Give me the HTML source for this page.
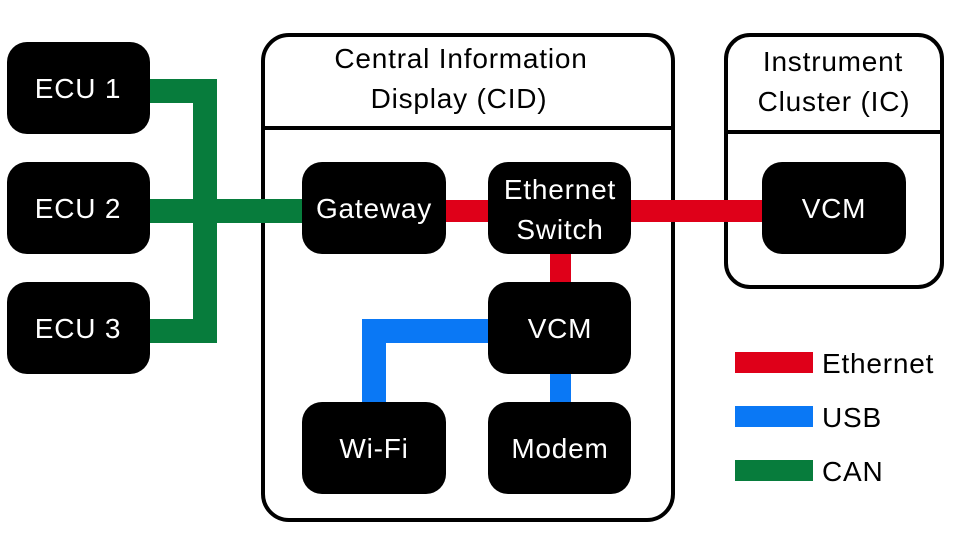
<!DOCTYPE html>
<html><head><meta charset="utf-8"><style>html,body{margin:0;padding:0;background:#fff}svg{display:block}text{font-family:"Liberation Sans","DejaVu Sans",sans-serif}</style></head><body>
<svg width="965" height="537" viewBox="0 0 965 537" xmlns="http://www.w3.org/2000/svg">
<rect x="0" y="0" width="965" height="537" fill="#fff"/>
<rect x="263" y="35" width="410" height="485" rx="26" fill="none" stroke="#000" stroke-width="4"/>
<line x1="263" y1="128" x2="673" y2="128" stroke="#000" stroke-width="4"/>
<rect x="726" y="35" width="216" height="252" rx="24" fill="none" stroke="#000" stroke-width="4"/>
<line x1="726" y1="132" x2="942" y2="132" stroke="#000" stroke-width="4"/>
<g fill="#077c3c">
<rect x="148" y="79" width="69" height="24"/>
<rect x="193" y="79" width="24" height="264"/>
<rect x="148" y="319" width="69" height="24"/>
<rect x="148" y="199" width="156" height="24"/>
</g>
<g fill="#df0019">
<rect x="444" y="200" width="46" height="22"/>
<rect x="629" y="200" width="135" height="22"/>
<rect x="550" y="252" width="21" height="32"/>
</g>
<g fill="#0a78f5">
<rect x="362" y="319" width="128" height="24"/>
<rect x="362" y="319" width="24" height="86"/>
<rect x="550" y="372" width="21" height="33"/>
</g>
<g fill="#000">
<rect x="7" y="42" width="143" height="92" rx="20"/>
<rect x="7" y="162" width="143" height="92" rx="20"/>
<rect x="7" y="282" width="143" height="92" rx="20"/>
<rect x="302" y="162" width="144" height="92" rx="20"/>
<rect x="488" y="162" width="143" height="92" rx="20"/>
<rect x="488" y="282" width="143" height="92" rx="20"/>
<rect x="302" y="402" width="144" height="92" rx="20"/>
<rect x="488" y="402" width="143" height="92" rx="20"/>
<rect x="762" y="162" width="144" height="92" rx="20"/>
</g>
<g fill="#fff" font-size="28" text-anchor="middle" letter-spacing="0.8">
<text x="78" y="98">ECU 1</text>
<text x="78" y="218">ECU 2</text>
<text x="78" y="338">ECU 3</text>
<text x="374" y="218">Gateway</text>
<text x="560" y="199">Ethernet</text>
<text x="560" y="239">Switch</text>
<text x="560" y="338">VCM</text>
<text x="374" y="458">Wi-Fi</text>
<text x="560" y="458">Modem</text>
<text x="834" y="218">VCM</text>
</g>
<g fill="#000" font-size="28" text-anchor="middle" letter-spacing="0.8">
<text x="461" y="68">Central Information</text>
<text x="459" y="108">Display (CID)</text>
<text x="833" y="71">Instrument</text>
<text x="834" y="111">Cluster (IC)</text>
</g>
<rect x="735" y="352" width="78" height="21" fill="#df0019"/>
<rect x="735" y="406" width="78" height="21" fill="#0a78f5"/>
<rect x="735" y="460" width="78" height="21" fill="#077c3c"/>
<g fill="#000" font-size="28" letter-spacing="0.8">
<text x="822" y="373">Ethernet</text>
<text x="822" y="427">USB</text>
<text x="822" y="481">CAN</text>
</g>
</svg>
</body></html>
